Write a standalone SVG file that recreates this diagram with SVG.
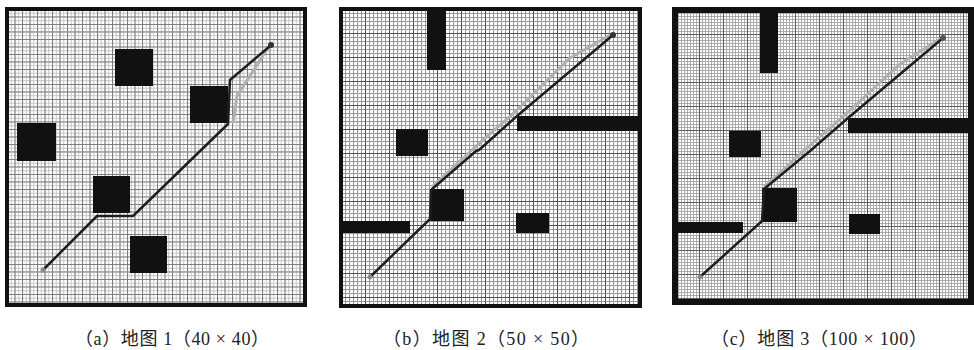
<svg xmlns="http://www.w3.org/2000/svg" width="974" height="350" viewBox="0 0 974 350">
<defs>
<pattern id="g1s" x="7" y="9" width="3.75" height="3.75" patternUnits="userSpaceOnUse">
<path d="M0 0.5H3.75M0.5 0V3.75" stroke="#c6c6c6" stroke-width="1" fill="none"/>
</pattern>
<pattern id="g1" x="7" y="9" width="7.5" height="7.5" patternUnits="userSpaceOnUse">
<path d="M0 0.5H7.5M0.5 0V7.5" stroke="#7c7c7c" stroke-width="1" fill="none"/>
</pattern>
<pattern id="g2" x="341" y="9" width="4" height="4" patternUnits="userSpaceOnUse">
<path d="M0 0.5H4M0.5 0V4" stroke="#979797" stroke-width="1" fill="none"/>
</pattern>
<pattern id="g2m" x="341" y="9" width="24" height="24" patternUnits="userSpaceOnUse">
<path d="M0 0.5H24M0.5 0V24" stroke="#555" stroke-width="1" fill="none"/>
</pattern>
<pattern id="g3" x="675" y="10" width="3" height="3" patternUnits="userSpaceOnUse">
<path d="M0 0.5H3M0.5 0V3" stroke="#a4a4a4" stroke-width="0.9" fill="none"/>
</pattern>
<pattern id="g3m" x="675" y="10" width="24" height="24" patternUnits="userSpaceOnUse">
<path d="M0 0.5H24M0.5 0V24" stroke="#5c5c5c" stroke-width="1" fill="none"/>
</pattern>
</defs>
<style>
.frame{fill:none;stroke:#111;}
.obs{fill:#111;}
.route{fill:none;stroke:#1e1e1e;stroke-width:2.5;stroke-linejoin:round;stroke-linecap:round;}
.alt{fill:none;stroke:#b0b0b0;stroke-width:3;stroke-linejoin:round;stroke-linecap:round;}
.cap{font-family:"Liberation Serif","Noto Sans CJK SC",serif;font-size:18px;fill:#222;text-anchor:middle;}
</style>
<rect width="974" height="350" fill="#fff"/>

<g id="map1">
<rect x="7" y="9" width="298" height="296" fill="#fff"/>
<rect x="7" y="9" width="298" height="296" fill="url(#g1s)"/>
<rect x="7" y="9" width="298" height="296" fill="url(#g1)"/>
<rect class="obs" x="115" y="49" width="38" height="37"/>
<rect class="obs" x="190" y="86" width="38" height="37"/>
<rect class="obs" x="17" y="123" width="39" height="38"/>
<rect class="obs" x="93" y="176" width="37" height="37"/>
<rect class="obs" x="130" y="236" width="37" height="37"/>
<path class="alt" d="M233,122 L237,96 L268,48"/>
<path class="route" d="M43,270 L97,216 L133,216 L228,124 L230,80 L270,46"/>
<circle cx="43" cy="270" r="2.5" fill="#888"/>
<circle cx="271" cy="45" r="3" fill="#333"/>
<rect class="frame" x="7" y="9" width="298" height="296" stroke-width="4"/>
</g>

<g id="map2">
<rect x="341" y="9" width="299" height="297" fill="#fff"/>
<rect x="341" y="9" width="299" height="297" fill="url(#g2)"/>
<rect x="341" y="9" width="299" height="297" fill="url(#g2m)"/>
<rect class="obs" x="427" y="9" width="19" height="61"/>
<rect class="obs" x="517" y="116" width="123" height="15"/>
<rect class="obs" x="396" y="129" width="32" height="27"/>
<rect class="obs" x="430" y="189" width="34" height="32"/>
<rect class="obs" x="341" y="221" width="69" height="12"/>
<rect class="obs" x="516" y="213" width="33" height="20"/>
<path class="alt" d="M433,186 L475,147 L515,112 L570,58 L610,35"/>
<path class="route" d="M370,277 L430,219 L431,190 L476,151 L479,150 L517,116 L613,35"/>
<circle cx="370" cy="277" r="2.5" fill="#888"/>
<circle cx="613" cy="35" r="3" fill="#333"/>
<rect class="frame" x="341" y="9" width="299" height="297" stroke-width="4"/>
</g>

<g id="map3">
<rect x="675" y="10" width="296" height="292" fill="#fff"/>
<rect x="675" y="10" width="296" height="292" fill="url(#g3)"/>
<rect x="675" y="10" width="296" height="292" fill="url(#g3m)"/>
<rect class="obs" x="760" y="10" width="18" height="63"/>
<rect class="obs" x="848" y="118" width="123" height="15"/>
<rect class="obs" x="729" y="131" width="32" height="26"/>
<rect class="obs" x="762" y="188" width="35" height="34"/>
<rect class="obs" x="675" y="222" width="68" height="11"/>
<rect class="obs" x="849" y="214" width="31" height="20"/>
<path class="alt" d="M765,186 L808,147 L846,114 L900,64 L940,39"/>
<path class="route" d="M700,277 L762,221 L764,189 L810,151 L848,118 L943,38"/>
<circle cx="700" cy="277" r="2.5" fill="#888"/>
<circle cx="943" cy="38" r="3" fill="#555"/>
<rect class="frame" x="675" y="10" width="296" height="292" stroke-width="6"/>
</g>

<g id="captions">
<text class="cap" x="172" y="345" textLength="194" lengthAdjust="spacing">（a）地图 1（40 × 40）</text>
<text class="cap" x="486" y="345" textLength="206" lengthAdjust="spacing">（b）地图 2（50 × 50）</text>
<text class="cap" x="819" y="345" textLength="216" lengthAdjust="spacing">（c）地图 3（100 × 100）</text>
</g>
</svg>
